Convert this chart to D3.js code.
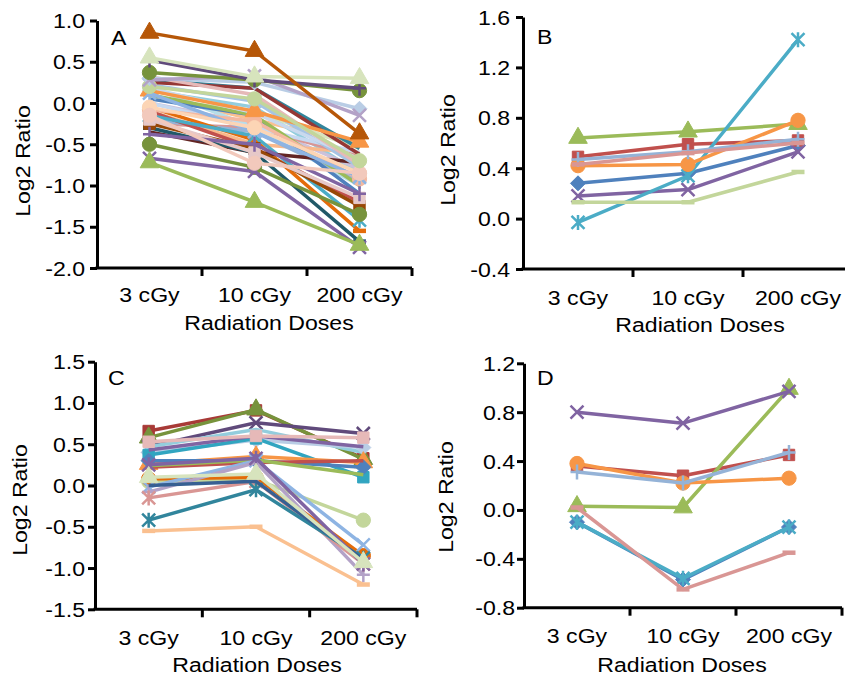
<!DOCTYPE html>
<html><head><meta charset="utf-8">
<script src="https://cdn.jsdelivr.net/npm/d3@7"></script>
<style>
body{margin:0;background:#fff}
text{font-family:"Liberation Sans",Arial,sans-serif;font-size:21px;fill:#000}
</style>
</head><body>
<svg id="chart" width="845" height="678"></svg>
<script>
const categories = ["3 cGy", "10 cGy", "200 cGy"];
const xTitle = "Radiation Doses";
const yTitle = "Log2 Ratio";
const panelLetters = ["A", "B", "C", "D"];

const ticksA = [-2.0, -1.5, -1.0, -0.5, 0.0, 0.5, 1.0];
const ticksB = [-0.4, 0.0, 0.4, 0.8, 1.2, 1.6];
const ticksC = [-1.5, -1.0, -0.5, 0.0, 0.5, 1.0, 1.5];
const ticksD = [-0.8, -0.4, 0.0, 0.4, 0.8, 1.2];

// Panel A values (3, 10, 200 cGy)
const valuesA = [
  [0.10, -0.20, -0.50],
  [0.15, -0.05, -0.85],
  [0.00, -0.25, -0.80],
  [0.05, -0.10, -0.55],
  [-0.10, -0.50, -0.60],
  [0.20, -0.30, -1.00],
  [-0.25, -0.30, -0.65],
  [0.00, -0.30, -0.60],
  [-0.20, -0.35, -0.95],
  [0.05, -0.15, -1.10],
  [0.10, -0.15, -1.00],
  [-0.10, -0.55, -1.20],
  [-0.05, -0.45, -1.55],
  [-0.15, -0.40, -1.42],
  [-0.35, -0.60, -0.72],
  [-0.30, -0.60, -1.68],
  [0.22, 0.02, -0.78],
  [-0.08, -0.22, -0.92],
  [0.18, -0.12, -0.68],
  [0.28, 0.18, -0.55],
  [0.25, 0.18, -0.62],
  [0.32, 0.10, -0.75],
  [0.15, -0.10, -0.47],
  [0.12, -0.35, -0.90],
  [-0.05, -0.30, -0.85],
  [-0.25, -0.55, -1.25],
  [-0.20, -0.60, -1.15],
  [-0.38, -0.50, -1.10],
  [-0.50, -0.78, -1.35],
  [-0.67, -0.83, -1.75],
  [-0.72, -1.20, -1.72],
  [-0.15, -0.73, -0.85],
  [0.20, 0.05, -0.70],
  [0.30, 0.25, -0.07],
  [0.28, 0.33, -0.15],
  [0.37, 0.28, 0.15],
  [0.52, 0.28, 0.18],
  [0.55, 0.32, 0.30],
  [0.85, 0.63, -0.37]
];
const colorsA = ["#FAC090","#93CDDD","#CCC1DA","#D7E4BD","#F9B98B","#B7DEE8","#D99694","#C6D9F1",
  "#95B3D7","#4F81BD","#9BBB59","#C0504D","#E46C0A","#4BACC6","#632523","#215968",
  "#A6C4E4","#F4B8A0","#C9D9EE",
  "#31859C","#953735","#E6B9B8","#F79646","#8EB4E3","#FCD5B5","#984807","#E6C8C8",
  "#8064A2","#77933C","#8064A2","#9BBB59","#F2C9BC","#C3D69B","#B9CDE5","#B3A2C7",
  "#77933C","#604A7B","#D7E4BD","#B65708"];
const markersA = ["dash","none","none","none","none","none","none","none",
  "plus","none","none","none","dash","star","none","dash",
  "star","circle","none",
  "none","none","none","triangle","star","circle","square","square",
  "plus","circle","x","triangle","circle","circle","diamond","x",
  "circle","plus","triangle","triangle"];

// Panel B values
const valuesB = [
  [0.28, 0.36, 0.58],
  [0.49, 0.59, 0.62],
  [0.64, 0.69, 0.75],
  [0.18, 0.23, 0.53],
  [-0.03, 0.34, 1.42],
  [0.42, 0.43, 0.78],
  [0.47, 0.53, 0.63],
  [0.43, 0.52, 0.60],
  [0.13, 0.13, 0.37]
];
const colorsB = ["#4F81BD","#C0504D","#9BBB59","#8064A2","#4BACC6","#F79646","#95B3D7","#D99694","#C3D69B"];
const markersB = ["diamond","square","triangle","x","star","circle","plus","dash","dash"];

// Panel C values
const valuesC = [
  [0.66, 0.91, 0.33],
  [0.58, 0.92, 0.32],
  [0.47, 0.76, 0.63],
  [0.47, 0.68, 0.40],
  [0.40, 0.55, 0.46],
  [0.37, 0.57, 0.10],
  [0.43, 0.60, 0.47],
  [0.26, 0.35, 0.28],
  [0.30, 0.30, 0.22],
  [0.22, 0.28, 0.30],
  [0.24, 0.31, 0.13],
  [0.05, 0.07, -0.42],
  [0.08, 0.10, -0.85],
  [-0.02, 0.30, -0.72],
  [-0.08, 0.28, -1.08],
  [-0.15, 0.05, -0.95],
  [-0.42, -0.05, -0.88],
  [-0.55, -0.50, -1.20],
  [0.00, 0.05, -0.90],
  [0.25, 0.33, -0.95],
  [0.10, 0.14, -0.93],
  [0.53, 0.60, 0.58]
];
const colorsC = ["#A83A37","#77933C","#604A7B","#93CDDD","#B9CDE5","#31A5C0","#8064A2","#F79646",
  "#4F81BD","#C0504D","#9BBB59","#C3D69B","#E46C0A","#8EB4E3","#B3A2C7","#D99694",
  "#31859C","#FAC090","#376092","#8064A2","#D7E4BD","#E6B9B8"];
const markersC = ["square","triangle","x","none","diamond","square","none","triangle",
  "diamond","none","none","circle","circle","x","plus","star",
  "star","dash","none","star","triangle","square"];

// Panel D values
const valuesD = [
  [-0.10, -0.57, -0.14],
  [0.36, 0.28, 0.45],
  [0.03, 0.02, 0.99],
  [0.80, 0.71, 0.97],
  [-0.10, -0.56, -0.14],
  [0.38, 0.22, 0.26],
  [0.31, 0.22, 0.47],
  [0.02, -0.65, -0.35]
];
const colorsD = ["#4F81BD","#C0504D","#9BBB59","#8064A2","#4BACC6","#F79646","#95B3D7","#D99694"];
const markersD = ["diamond","square","triangle","x","star","circle","plus","dash"];

const panels = [
  {vals: valuesA, cols: colorsA, marks: markersA, ticks: ticksA, dom: [-2, 1], x0: 97, x1: 412, yTop: 20.5, yBot: 268,
   tickLabelX: 85, titleX: 30, titleY: 161, xLabelY: 302, xTitleX: 269, xTitleY: 330, letterX: 111, letterY: 45},
  {vals: valuesB, cols: colorsB, marks: markersB, ticks: ticksB, dom: [-0.4, 1.6], x0: 523, x1: 853, yTop: 17, yBot: 269,
   tickLabelX: 510, titleX: 455, titleY: 150, xLabelY: 305, xTitleX: 700, xTitleY: 332, letterX: 537, letterY: 44},
  {vals: valuesC, cols: colorsC, marks: markersC, ticks: ticksC, dom: [-1.5, 1.5], x0: 95, x1: 417, yTop: 361.7, yBot: 609.3,
   tickLabelX: 85, titleX: 27, titleY: 500, xLabelY: 645, xTitleX: 257, xTitleY: 672, letterX: 108, letterY: 385},
  {vals: valuesD, cols: colorsD, marks: markersD, ticks: ticksD, dom: [-0.8, 1.2], x0: 524, x1: 842, yTop: 363.3, yBot: 607.7,
   tickLabelX: 515, titleX: 453, titleY: 497, xLabelY: 643, xTitleX: 682, xTitleY: 672, letterX: 537, letterY: 385}
];

const svg = d3.select("#chart");
const SX = 1.1;

function label(g, txt, x, y, anchor, rot) {
  g.append("text")
    .attr("transform", `translate(${x},${y})` + (rot ? " rotate(-90)" : "") + ` scale(${SX},1)`)
    .attr("text-anchor", anchor)
    .text(txt);
}

function marker(g, type, x, y, color) {
  if (type === "none") return;
  const sym = {square: d3.symbolSquare, triangle: d3.symbolTriangle, circle: d3.symbolCircle};
  const sizes = {square: 130, triangle: 150, circle: 160};
  if (sym[type]) {
    g.append("path").attr("d", d3.symbol(sym[type], sizes[type])())
      .attr("transform", `translate(${x},${y})`)
      .attr("fill", color).attr("stroke", color).attr("stroke-width", 1);
    return;
  }
  if (type === "diamond") {
    g.append("path").attr("d", "M0,-7.5L7.5,0L0,7.5L-7.5,0Z")
      .attr("transform", `translate(${x},${y})`)
      .attr("fill", color).attr("stroke", color).attr("stroke-width", 1);
    return;
  }
  let d = "";
  const r = 6.5;
  if (type === "x") d = `M${-r},${-r}L${r},${r}M${-r},${r}L${r},${-r}`;
  if (type === "star") d = `M${-r},${-r}L${r},${r}M${-r},${r}L${r},${-r}M0,${-r - 1}L0,${r + 1}`;
  if (type === "plus") d = `M${-r},0L${r},0M0,${-r - 1}L0,${r + 1}`;
  if (type === "dash") d = `M${-6.5},0L${6.5},0`;
  g.append("path").attr("d", d).attr("transform", `translate(${x},${y})`)
    .attr("fill", "none").attr("stroke", color)
    .attr("stroke-width", type === "dash" ? 4.5 : 2.5);
}

panels.forEach((p, i) => {
  const g = svg.append("g");
  const x = d3.scaleBand().domain(categories).range([p.x0, p.x1]).padding(0);
  const y = d3.scaleLinear().domain(p.dom).range([p.yBot, p.yTop]);

  // series
  const line = d3.line().x((d, k) => x(categories[k]) + x.bandwidth() / 2).y(d => y(d));
  p.vals.forEach((vals, s) => {
    g.append("path").datum(vals).attr("d", line)
      .attr("fill", "none").attr("stroke", p.cols[s]).attr("stroke-width", 3.5)
      .attr("stroke-linejoin", "round");
    vals.forEach((v, k) => marker(g, p.marks[s], x(categories[k]) + x.bandwidth() / 2, y(v), p.cols[s]));
  });

  // y axis
  const ya = g.append("g").attr("transform", `translate(${p.x0},0)`)
    .call(d3.axisLeft(y).tickValues(p.ticks).tickSize(7).tickSizeOuter(0).tickFormat(""));
  ya.selectAll("path,line").attr("stroke", "#000").attr("stroke-width", 3);
  p.ticks.forEach(t => {
    g.append("text")
      .attr("transform", `translate(${p.tickLabelX},${y(t) + 7.5}) scale(${SX},1)`)
      .attr("text-anchor", "end").text(t.toFixed(1));
  });

  // x axis
  g.append("line").attr("x1", p.x0 - 1.5).attr("x2", p.x1).attr("y1", p.yBot).attr("y2", p.yBot)
    .attr("stroke", "#000").attr("stroke-width", 3);
  categories.forEach(c => {
    const bx = x(c) + x.bandwidth();
    g.append("line").attr("x1", bx).attr("x2", bx).attr("y1", p.yBot).attr("y2", p.yBot + 8)
      .attr("stroke", "#000").attr("stroke-width", 3);
    label(g, c, x(c) + x.bandwidth() / 2, p.xLabelY, "middle", false);
  });

  label(g, xTitle, p.xTitleX, p.xTitleY, "middle", false);
  label(g, yTitle, p.titleX, p.titleY, "middle", true);
  label(g, panelLetters[i], p.letterX, p.letterY, "start", false);
});
</script>
</body></html>
